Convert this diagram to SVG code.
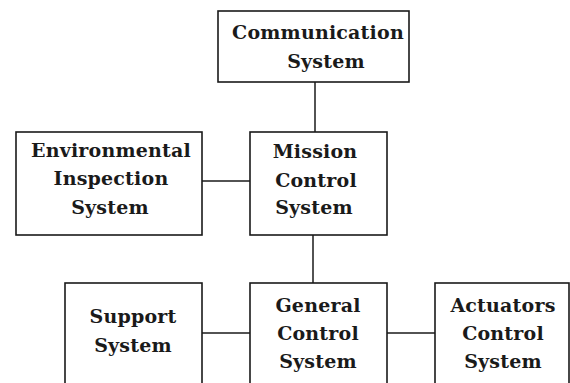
<svg xmlns="http://www.w3.org/2000/svg" width="570" height="383" viewBox="0 0 570 383">
<style>
.box{fill:#fff;stroke:#1a1a1a;stroke-width:1.6}
.conn{stroke:#1a1a1a;stroke-width:1.5;fill:none}
text{font-family:"DejaVu Serif","Liberation Serif",serif;font-size:19px;font-weight:bold;fill:#1a1a1a;text-anchor:middle;letter-spacing:0.2px}
</style>
<rect width="570" height="383" fill="#fff"/>
<g id="connectors">
<line class="conn" x1="315" y1="82" x2="315" y2="132"/>
<line class="conn" x1="202" y1="181" x2="250" y2="181"/>
<line class="conn" x1="313" y1="235" x2="313" y2="283"/>
<line class="conn" x1="202" y1="333" x2="250" y2="333"/>
<line class="conn" x1="387" y1="333" x2="435" y2="333"/>
</g>
<g id="communication">
<rect class="box" x="218" y="11" width="191" height="71"/>
<text x="318" y="39">Communication</text>
<text x="326" y="68">System</text>
</g>
<g id="environmental">
<rect class="box" x="16" y="132" width="186" height="103"/>
<text x="111" y="157">Environmental</text>
<text x="111" y="185">Inspection</text>
<text x="110" y="214">System</text>
</g>
<g id="mission">
<rect class="box" x="250" y="132" width="137" height="103"/>
<text x="315" y="158">Mission</text>
<text x="316" y="187">Control</text>
<text x="314" y="214">System</text>
</g>
<g id="support">
<rect class="box" x="65" y="283" width="137" height="110"/>
<text x="133" y="323">Support</text>
<text x="133" y="352">System</text>
</g>
<g id="general">
<rect class="box" x="250" y="283" width="137" height="110"/>
<text x="318" y="312">General</text>
<text x="318" y="340">Control</text>
<text x="318" y="368">System</text>
</g>
<g id="actuators">
<rect class="box" x="435" y="283" width="134" height="110"/>
<text x="503" y="312">Actuators</text>
<text x="503" y="340">Control</text>
<text x="503" y="368">System</text>
</g>
</svg>
